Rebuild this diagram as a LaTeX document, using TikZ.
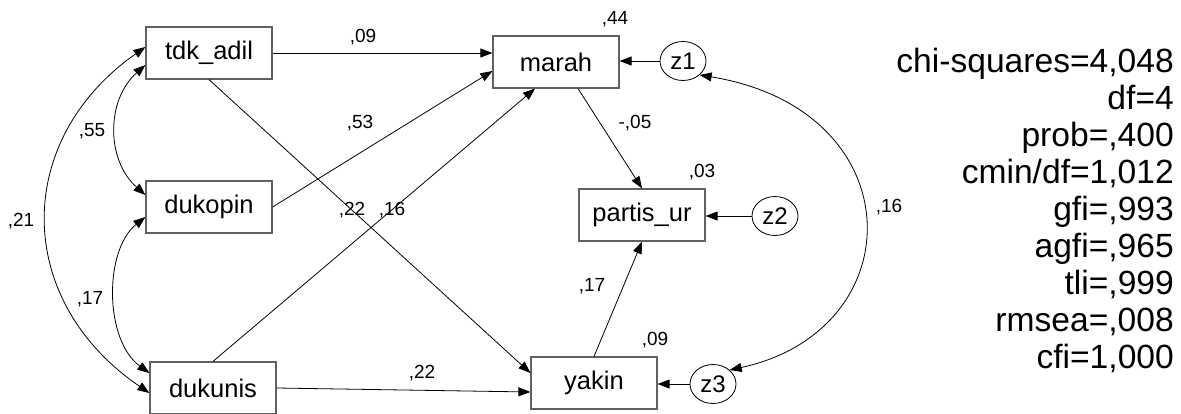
\documentclass[tikz,border=0pt]{standalone}
\usepackage{fontspec}
\setmainfont{Liberation Sans}
\usetikzlibrary{arrows.meta,shapes.geometric}

\begin{document}
\begin{tikzpicture}[x=1pt,y=-1pt,
  var/.style={draw=black!62, line width=1.2pt, minimum width=126pt, minimum height=52pt,
    inner sep=0pt, font=\fontsize{25.5}{26}\selectfont},
  err/.style={draw=black, line width=0.8pt, ellipse, minimum width=46pt, minimum height=39pt,
    inner sep=0pt, font=\fontsize{24}{24}\selectfont},
  tip/.tip={Triangle[length=12pt,width=9pt]},
  link/.style={draw, line width=0.8pt, -tip},
  cov/.style={draw, line width=0.8pt, tip-tip},
  lab/.style={font=\fontsize{19}{19}\selectfont, inner sep=0pt},
  stat/.style={font=\fontsize{33.6}{37}\selectfont, anchor=base east, inner sep=0pt}]

\useasboundingbox (0,0) rectangle (1181,413);

% observed variables
\node[var] (tdk)     at (209,53)  {tdk\_adil};
\node[var] (dukopin) at (209,207) {dukopin};
\node[var] (dukunis) at (213,388) {dukunis};
\node[var] (marah)   at (556,62)  {marah};
\node[var] (partis)  at (642,215) {partis\_ur};
\node[var] (yakin)   at (594,383) {yakin};

% disturbances
\node[err] (z1) at (683,61)  {z1};
\node[err] (z2) at (775,216) {z2};
\node[err] (z3) at (713,384) {z3};

% regression paths
\draw[link] (tdk.east) -- ([yshift=9pt]marah.west);
\draw[link] (dukopin.east) -- ([yshift=-9pt]marah.west);
\draw[link] (dukunis.north) -- ([xshift=-21pt]marah.south);
\draw[link] (tdk.south) -- ([yshift=10pt]yakin.west);
\draw[link] (dukunis.east) -- ([yshift=-9pt]yakin.west);
\draw[link] ([xshift=22pt]marah.south) -- (partis.north);
\draw[link] (yakin.north) -- (partis.south);
\draw[link] (z1) -- (marah.east |- z1);
\draw[link] (z2) -- (partis.east |- z2);
\draw[link] (z3) -- (yakin.east |- z3);

% covariances
\draw[cov] ([yshift=-12pt]tdk.west) .. controls (106,100) and (106,160) .. ([yshift=12pt]dukopin.west);
\draw[cov] ([yshift=-10pt]dukopin.west) .. controls (104,250) and (104,340) .. ([yshift=15pt]dukunis.west);
\draw[cov] ([yshift=6pt]tdk.west) .. controls (13,140) and (13,300) .. ([yshift=-5pt]dukunis.west);
\draw[cov] (z1.-40) .. controls (914,110) and (914,330) .. (z3.40);

% estimates
\node[lab] (e1)  at (363,37)  {,09};
\node[lab] (e2)  at (615,19)  {,44};
\node[lab] (e3)  at (360,123) {,53};
\node[lab] (e4)  at (635,123) {-,05};
\node[lab] (e5)  at (702,172) {,03};
\node[lab] (e6)  at (352,210) {,22};
\node[lab] (e7)  at (392,210) {,16};
\node[lab] (e8)  at (592,286) {,17};
\node[lab] (e9)  at (655,340) {,09};
\node[lab] (e10) at (422,373) {,22};
\node[lab] (e11) at (92,131)  {,55};
\node[lab] (e12) at (21,221)  {,21};
\node[lab] (e13) at (90,299)  {,17};
\node[lab] (e14) at (889,207) {,16};

% fit statistics
\foreach \t [count=\i] in {chi-squares=4{,}048, df=4, prob={,}400, cmin/df=1{,}012,
    gfi={,}993, agfi={,}965, tli={,}999, rmsea={,}008, cfi=1{,}000}
  \node[stat] (s\i) at (1174,{35+37*\i}) {\t};

\end{tikzpicture}
\end{document}
